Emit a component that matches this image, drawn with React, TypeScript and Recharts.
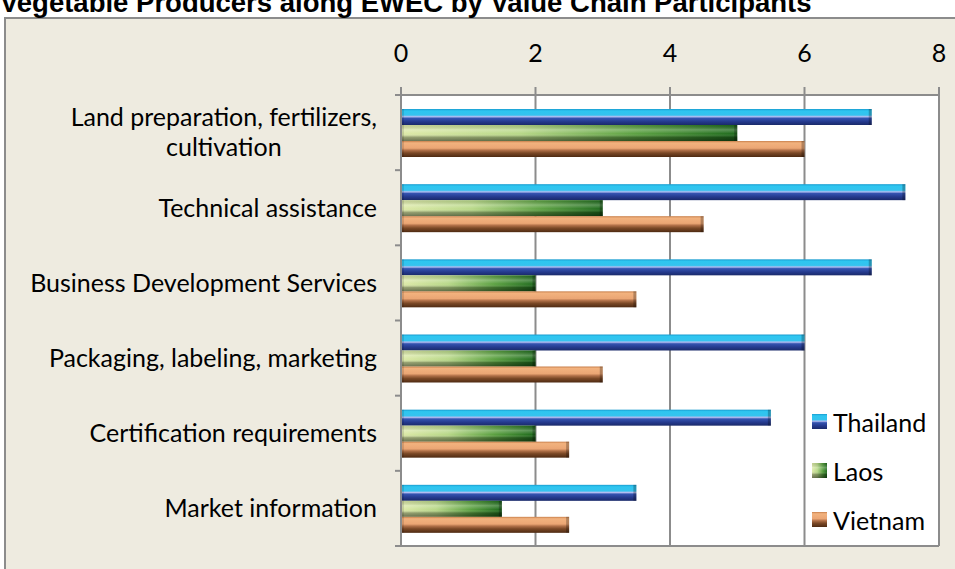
import { BarChart, Bar, XAxis, YAxis, CartesianGrid, Legend } from "recharts";

const categories = [
  "Land preparation, fertilizers, cultivation",
  "Technical assistance",
  "Business Development Services",
  "Packaging, labeling, marketing",
  "Certification requirements",
  "Market information",
];
const thailand = [7, 7.5, 7, 6, 5.5, 3.5];
const laos = [5, 3, 2, 2, 2, 1.5];
const vietnam = [6, 4.5, 3.5, 3, 2.5, 2.5];
const xTicks = [0, 2, 4, 6, 8];
const seriesNames = ["Thailand", "Laos", "Vietnam"];

const data = categories.map((name, i) => ({
  name,
  Thailand: thailand[i],
  Laos: laos[i],
  Vietnam: vietnam[i],
}));

const W = 955;
const H = 569;
const MARGIN = { top: 0, right: 16, bottom: 23, left: 0 };
const XAXIS_H = 95;
const YAXIS_W = 401;
const LABEL_GAP = 24;
const BAND = (H - MARGIN.top - MARGIN.bottom - XAXIS_H) / categories.length;
const FONT = "Lato, 'Open Sans', sans-serif";
const FONT_SIZE = 25;
const GRID = "#8c8c8c";

const fills: Record<string, string> = {
  Thailand: "url(#thai)",
  Laos: "url(#laosH)",
  Vietnam: "url(#viet)",
};

let ctx: CanvasRenderingContext2D | null = null;
function textWidth(s: string) {
  if (!ctx) ctx = document.createElement("canvas").getContext("2d");
  if (!ctx) return s.length * 11;
  ctx.font = `${FONT_SIZE}px Lato`;
  return ctx.measureText(s).width;
}

function wrap(label: string, max: number) {
  const words = label.split(" ");
  const lines: string[] = [];
  let cur = "";
  for (const w of words) {
    const next = cur ? cur + " " + w : w;
    if (cur && textWidth(next) > max) {
      lines.push(cur);
      cur = w;
    } else cur = next;
  }
  if (cur) lines.push(cur);
  return lines;
}

const CategoryTick = (props: any) => {
  const { x, y, payload, index } = props;
  const lines = wrap(payload.value, 365);
  const widest = Math.max(...lines.map(textWidth));
  const cx = x - widest / 2;
  const axisX = x + LABEL_GAP;
  const lineH = 30;
  const top = y - ((lines.length - 1) * lineH) / 2;
  return (
    <g>
      <line x1={axisX - 6} x2={axisX} y1={y - BAND / 2} y2={y - BAND / 2} stroke={GRID} strokeWidth={2} />
      {index === categories.length - 1 && (
        <line x1={axisX - 6} x2={axisX} y1={y + BAND / 2} y2={y + BAND / 2} stroke={GRID} strokeWidth={2} />
      )}
      {lines.map((l, i) => (
        <text
          key={i}
          x={lines.length > 1 ? cx : x}
          y={top + i * lineH}
          dy="0.35em"
          textAnchor={lines.length > 1 ? "middle" : "end"}
          fontFamily={FONT}
          fontSize={FONT_SIZE}
          fill="#000"
        >
          {l}
        </text>
      ))}
    </g>
  );
};

function bevel(overlay?: string) {
  return (p: any) => {
    const { x, y, width, height, fill } = p;
    if (!width || width <= 0) return <g />;
    return (
      <g>
        <rect x={x} y={y} width={width} height={height} fill={fill} />
        {overlay && <rect x={x} y={y} width={width} height={height} fill={overlay} />}
        <rect x={x} y={y} width={3} height={height} fill="#000" opacity={0.12} />
        <rect x={x + width - 3} y={y} width={3} height={height} fill="#000" opacity={0.25} />
      </g>
    );
  };
}

const LegendContent = () => (
  <div style={{ fontFamily: FONT, fontSize: FONT_SIZE, color: "#000" }}>
    {seriesNames.map((n) => (
      <div key={n} style={{ display: "flex", alignItems: "center", height: 49 }}>
        <svg width={15} height={15} style={{ marginRight: 6 }}>
          <rect width={15} height={15} fill={fills[n]} />
          {n === "Laos" && <rect width={15} height={15} fill="url(#laosShade)" />}
        </svg>
        <span>{n}</span>
      </div>
    ))}
  </div>
);

export default function App() {
  return (
    <div style={{ position: "absolute", left: 0, top: 0, width: W, height: H, overflow: "hidden", background: "#fff" }}>
      <div
        style={{
          position: "absolute",
          left: 4,
          top: 17,
          width: 980,
          height: 580,
          background: "#EEEBE0",
          border: `2px solid ${GRID}`,
          boxSizing: "border-box",
        }}
      />
      <div
        style={{
          position: "absolute",
          left: 0,
          top: -10,
          fontFamily: "'Liberation Sans', Arial, sans-serif",
          fontWeight: "bold",
          fontSize: 27.5,
          lineHeight: "26px",
          whiteSpace: "nowrap",
        }}
      >
        Vegetable Producers along EWEC by Value Chain Participants
      </div>
      <div style={{ position: "absolute", left: 0, top: 0 }}>
        <BarChart
          width={W}
          height={H}
          data={data}
          layout="vertical"
          margin={MARGIN}
          barSize={16}
          barGap={0}
        >
          <defs>
            <linearGradient id="thai" x1="0" y1="0" x2="0" y2="1">
              <stop offset="0" stopColor="#1a9cd0" />
              <stop offset="0.12" stopColor="#2ec6f0" />
              <stop offset="0.38" stopColor="#35c3ee" />
              <stop offset="0.48" stopColor="#b4bdf0" />
              <stop offset="0.58" stopColor="#3453b0" />
              <stop offset="0.8" stopColor="#24398c" />
              <stop offset="1" stopColor="#1a2a6a" />
            </linearGradient>
            <linearGradient id="laosH" x1="0" y1="0" x2="1" y2="0">
              <stop offset="0" stopColor="#dde9a8" />
              <stop offset="0.35" stopColor="#b8d888" />
              <stop offset="0.7" stopColor="#5aa040" />
              <stop offset="1" stopColor="#1e6a1c" />
            </linearGradient>
            <linearGradient id="laosShade" x1="0" y1="0" x2="0" y2="1">
              <stop offset="0" stopColor="#000" stopOpacity={0.1} />
              <stop offset="0.3" stopColor="#fff" stopOpacity={0.25} />
              <stop offset="0.55" stopColor="#fff" stopOpacity={0} />
              <stop offset="0.75" stopColor="#000" stopOpacity={0.3} />
              <stop offset="1" stopColor="#000" stopOpacity={0.5} />
            </linearGradient>
            <linearGradient id="viet" x1="0" y1="0" x2="0" y2="1">
              <stop offset="0" stopColor="#c8804c" />
              <stop offset="0.12" stopColor="#f2b27e" />
              <stop offset="0.45" stopColor="#eba674" />
              <stop offset="0.58" stopColor="#b07048" />
              <stop offset="0.75" stopColor="#7a4826" />
              <stop offset="1" stopColor="#4e2a12" />
            </linearGradient>
          </defs>
          <CartesianGrid
            fill="#fff"
            stroke={GRID}
            strokeWidth={2}
            horizontalCoordinatesGenerator={({ offset }: any) => [offset.top, offset.top + offset.height]}
          />
          <XAxis
            type="number"
            orientation="top"
            domain={[0, 8]}
            ticks={xTicks}
            height={XAXIS_H}
            tickSize={8}
            tickMargin={25}
            stroke={GRID}
            axisLine={{ stroke: GRID, strokeWidth: 2 }}
            tickLine={{ stroke: GRID, strokeWidth: 2 }}
            tick={{ fill: "#000", fontFamily: FONT, fontSize: FONT_SIZE }}
          />
          <YAxis
            type="category"
            dataKey="name"
            width={YAXIS_W}
            tickLine={false}
            tickSize={0}
            tickMargin={LABEL_GAP}
            axisLine={{ stroke: GRID, strokeWidth: 2 }}
            tick={<CategoryTick />}
            interval={0}
          />
          <Legend
            layout="vertical"
            align="center"
            verticalAlign="middle"
            content={<LegendContent />}
            wrapperStyle={{ left: 812, top: 397, width: 140, height: 150 }}
          />
          <Bar dataKey="Thailand" fill={fills.Thailand} shape={bevel()} isAnimationActive={false} />
          <Bar dataKey="Laos" fill={fills.Laos} shape={bevel("url(#laosShade)")} isAnimationActive={false} />
          <Bar dataKey="Vietnam" fill={fills.Vietnam} shape={bevel()} isAnimationActive={false} />
        </BarChart>
      </div>
    </div>
  );
}
